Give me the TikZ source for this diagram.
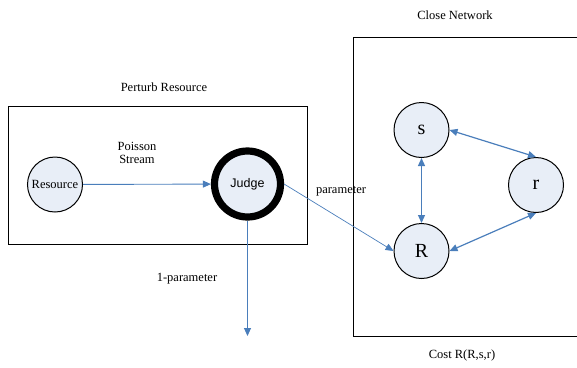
\documentclass[tikz,border=0pt]{standalone}
\usepackage{fontspec}
\setmainfont{Liberation Serif}
\newfontfamily\arialfont{Liberation Sans}
\usetikzlibrary{arrows.meta}
\definecolor{arrowblue}{HTML}{4A7EBB}
\definecolor{nodefill}{HTML}{E8EEF7}
\tikzset{
  lbl/.style={font=\fontsize{12.5}{14}\selectfont, inner sep=0pt, align=center},
  state/.style={circle, draw=black, line width=1pt, fill=nodefill, minimum size=55pt, inner sep=0pt},
  bigletter/.style={font=\fontsize{20}{22}\selectfont},
  box/.style={draw=black, line width=1pt},
  flow/.style={draw=arrowblue, line width=0.9pt, -{Triangle[length=8pt,width=7pt]}},
  twoway/.style={draw=arrowblue, line width=1.2pt, {Triangle[length=8pt,width=7pt]}-{Triangle[length=8pt,width=7pt]}}
}
\begin{document}
\begin{tikzpicture}[x=1pt,y=-1pt]
\useasboundingbox (0,0) rectangle (577,367);
% boxes
\draw[box] (8,106) rectangle (307,244);
\draw[box] (577,37) -- (353,37) -- (353,336) -- (577,336);
% titles
\node[lbl] (ptitle) at (164,87) {Perturb Resource};
\node[lbl] (ctitle) at (455,15) {Close Network};
\node[lbl] (cost) at (462,355) {Cost R(R,s,r)};
% nodes
\node[state, font=\fontsize{12.5}{14}\selectfont] (res) at (55,184.5) {Resource};
\node[circle, draw=black, line width=7.2pt, fill=nodefill, minimum size=66pt, inner sep=0pt,
      font=\arialfont\fontsize{12.5}{14}\selectfont] (J) at (247.5,184) {Judge};
\node[state, bigletter] (s) at (421.5,130) {s};
\node[state, bigletter] (r) at (536,185) {r};
\node[state, bigletter] (R) at (421.5,251) {R};
\coordinate (out) at (247.5,336);
% labels
\node[lbl] (poisson) at (137,153) {Poisson\\[-1pt]Stream};
\node[lbl] (param) at (341,191) {parameter};
\node[lbl] (oneparam) at (187,279) {1-parameter};
% connectors
\draw[flow] (res) -- (J);
\draw[flow, line width=0.7pt] (J.east) -- (R.west);
\draw[flow] (J.south) -- (out);
\draw[twoway] (s.south) -- (R.north);
\draw[twoway] (s.east) -- (r.north);
\draw[twoway] (R.east) -- (r.south);
\end{tikzpicture}
\end{document}
